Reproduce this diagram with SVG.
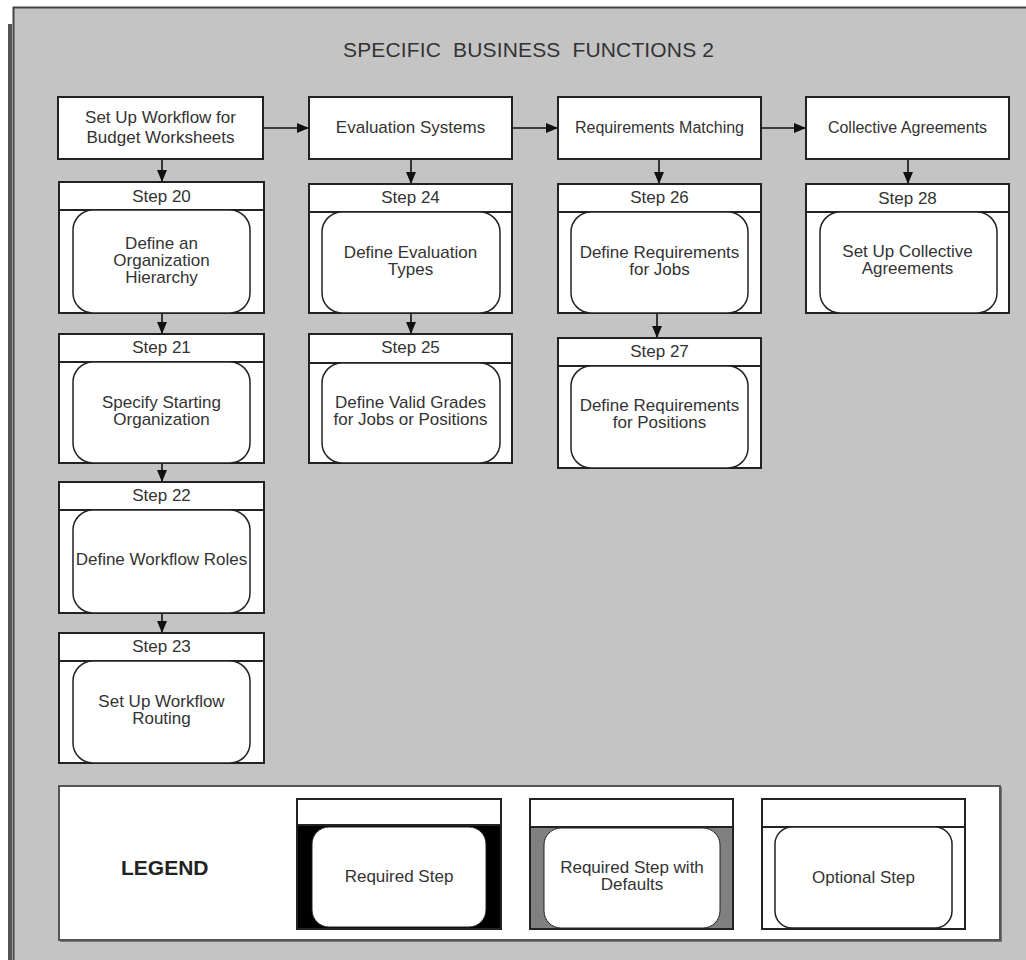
<svg xmlns="http://www.w3.org/2000/svg" width="1026" height="960" viewBox="0 0 1026 960">
<style>
  .box { fill: #ffffff; stroke: #222222; stroke-width: 2; }
  .hdr { stroke: #222222; stroke-width: 2; }
  .rr { fill: #ffffff; stroke: #222222; stroke-width: 1.5; }
  .t { font-family: "Liberation Sans", Arial, sans-serif; font-size: 17px; fill: #333333; text-anchor: middle; }
  .t16 { font-size: 16px; }
  .title { font-family: "Liberation Sans", Arial, sans-serif; font-size: 21px; fill: #333333; }
  .leg { font-family: "Liberation Sans", Arial, sans-serif; font-size: 21px; font-weight: bold; fill: #222222; }
  .conn { stroke: #111111; stroke-width: 1.6; fill: none; marker-end: url(#ah); }
</style>
<defs>
  <marker id="ah" viewBox="0 0 12 10" refX="12" refY="5" markerWidth="12" markerHeight="10" markerUnits="userSpaceOnUse" orient="auto">
    <path d="M0,0 L12,5 L0,10 Z" fill="#111111"/>
  </marker>
</defs>

<rect x="0" y="0" width="1026" height="960" fill="#ffffff"/>
<rect x="8" y="24" width="4" height="940" fill="#555555"/>
<rect x="13.5" y="7.5" width="1030" height="970" fill="#c4c4c4" stroke="#444444" stroke-width="2"/>

<text class="title" x="343" y="57" xml:space="preserve" textLength="371" lengthAdjust="spacing">SPECIFIC  BUSINESS  FUNCTIONS 2</text>

<g id="connectors">
  <line class="conn" x1="263" y1="128" x2="309" y2="128"/>
  <line class="conn" x1="512" y1="128" x2="558" y2="128"/>
  <line class="conn" x1="761" y1="128" x2="806" y2="128"/>
  <line class="conn" x1="162" y1="159" x2="162" y2="182"/>
  <line class="conn" x1="162" y1="313" x2="162" y2="334"/>
  <line class="conn" x1="162" y1="463" x2="162" y2="482"/>
  <line class="conn" x1="162" y1="613" x2="162" y2="633"/>
  <line class="conn" x1="411" y1="159" x2="411" y2="184"/>
  <line class="conn" x1="411" y1="313" x2="411" y2="334"/>
  <line class="conn" x1="659" y1="159" x2="659" y2="184"/>
  <line class="conn" x1="657" y1="313" x2="657" y2="338"/>
  <line class="conn" x1="908" y1="159" x2="908" y2="184"/>
</g>

<g id="h1">
  <rect class="box" x="58" y="97" width="205" height="62"/>
  <text class="t" x="160.5" y="123">Set Up Workflow for</text>
  <text class="t" x="160.5" y="143">Budget Worksheets</text>
</g>
<g id="h2">
  <rect class="box" x="309" y="97" width="203" height="62"/>
  <text class="t" x="410.5" y="133">Evaluation Systems</text>
</g>
<g id="h3">
  <rect class="box" x="558" y="97" width="203" height="62"/>
  <text class="t t16" x="659.5" y="133">Requirements Matching</text>
</g>
<g id="h4">
  <rect class="box" x="806" y="97" width="203" height="62"/>
  <text class="t t16" x="907.5" y="133">Collective Agreements</text>
</g>

<g id="step20">
  <rect class="box" x="59" y="182" width="205" height="131"/>
  <line class="hdr" x1="59" y1="210" x2="264" y2="210"/>
  <rect class="rr" x="73" y="210" width="177" height="103" rx="20"/>
  <text class="t" x="161.5" y="202">Step 20</text>
  <text class="t" x="161.5" y="249">Define an</text>
  <text class="t" x="161.5" y="266">Organization</text>
  <text class="t" x="161.5" y="283">Hierarchy</text>
</g>
<g id="step21">
  <rect class="box" x="59" y="334" width="205" height="129"/>
  <line class="hdr" x1="59" y1="362" x2="264" y2="362"/>
  <rect class="rr" x="73" y="362" width="177" height="101" rx="20"/>
  <text class="t" x="161.5" y="353">Step 21</text>
  <text class="t" x="161.5" y="408">Specify Starting</text>
  <text class="t" x="161.5" y="425">Organization</text>
</g>
<g id="step22">
  <rect class="box" x="59" y="482" width="205" height="131"/>
  <line class="hdr" x1="59" y1="510" x2="264" y2="510"/>
  <rect class="rr" x="73" y="510" width="177" height="103" rx="20"/>
  <text class="t" x="161.5" y="501">Step 22</text>
  <text class="t" x="161.5" y="565">Define Workflow Roles</text>
</g>
<g id="step23">
  <rect class="box" x="59" y="633" width="205" height="130"/>
  <line class="hdr" x1="59" y1="661" x2="264" y2="661"/>
  <rect class="rr" x="73" y="661" width="177" height="102" rx="20"/>
  <text class="t" x="161.5" y="652">Step 23</text>
  <text class="t" x="161.5" y="707">Set Up Workflow</text>
  <text class="t" x="161.5" y="724">Routing</text>
</g>

<g id="step24">
  <rect class="box" x="309" y="184" width="203" height="129"/>
  <line class="hdr" x1="309" y1="212" x2="512" y2="212"/>
  <rect class="rr" x="322" y="212" width="178" height="101" rx="20"/>
  <text class="t" x="410.5" y="203">Step 24</text>
  <text class="t" x="410.5" y="258">Define Evaluation</text>
  <text class="t" x="410.5" y="275">Types</text>
</g>
<g id="step25">
  <rect class="box" x="309" y="334" width="203" height="129"/>
  <line class="hdr" x1="309" y1="363" x2="512" y2="363"/>
  <rect class="rr" x="322" y="363" width="178" height="100" rx="20"/>
  <text class="t" x="410.5" y="353">Step 25</text>
  <text class="t" x="410.5" y="408">Define Valid Grades</text>
  <text class="t" x="410.5" y="425">for Jobs or Positions</text>
</g>

<g id="step26">
  <rect class="box" x="558" y="184" width="203" height="129"/>
  <line class="hdr" x1="558" y1="212" x2="761" y2="212"/>
  <rect class="rr" x="571" y="212" width="177" height="101" rx="20"/>
  <text class="t" x="659.5" y="203">Step 26</text>
  <text class="t" x="659.5" y="258">Define Requirements</text>
  <text class="t" x="659.5" y="275">for Jobs</text>
</g>
<g id="step27">
  <rect class="box" x="558" y="338" width="203" height="130"/>
  <line class="hdr" x1="558" y1="366" x2="761" y2="366"/>
  <rect class="rr" x="571" y="366" width="177" height="102" rx="20"/>
  <text class="t" x="659.5" y="357">Step 27</text>
  <text class="t" x="659.5" y="411">Define Requirements</text>
  <text class="t" x="659.5" y="428">for Positions</text>
</g>

<g id="step28">
  <rect class="box" x="806" y="184" width="203" height="129"/>
  <line class="hdr" x1="806" y1="212" x2="1009" y2="212"/>
  <rect class="rr" x="820" y="212" width="177" height="101" rx="20"/>
  <text class="t" x="907.5" y="204">Step 28</text>
  <text class="t" x="907.5" y="257">Set Up Collective</text>
  <text class="t" x="907.5" y="274">Agreements</text>
</g>

<g id="legend">
  <rect x="60" y="787" width="942" height="155" fill="#777777"/>
  <rect x="59" y="786" width="941" height="154" fill="#ffffff" stroke="#555555" stroke-width="2"/>
  <text class="leg" x="121" y="875">LEGEND</text>

  <g id="legend-required">
    <rect x="297" y="799" width="204" height="130" fill="#000000" stroke="#222222" stroke-width="2"/>
    <rect x="297" y="799" width="204" height="26" fill="#ffffff" stroke="#222222" stroke-width="2"/>
    <rect x="312" y="827" width="174" height="100" rx="17" fill="#ffffff" stroke="#222222" stroke-width="1"/>
    <text class="t" x="399" y="882">Required Step</text>
  </g>
  <g id="legend-defaults">
    <rect x="530" y="799" width="203" height="130" fill="#808080" stroke="#222222" stroke-width="2"/>
    <rect x="530" y="799" width="203" height="28" fill="#ffffff" stroke="#222222" stroke-width="2"/>
    <rect x="544" y="828" width="176" height="100" rx="17" fill="#ffffff" stroke="#222222" stroke-width="1"/>
    <text class="t" x="632" y="873">Required Step with</text>
    <text class="t" x="632" y="890">Defaults</text>
  </g>
  <g id="legend-optional">
    <rect x="762" y="799" width="203" height="130" fill="#ffffff" stroke="#222222" stroke-width="2"/>
    <line class="hdr" x1="762" y1="827" x2="965" y2="827"/>
    <rect x="775" y="827" width="177" height="101" rx="17" fill="#ffffff" stroke="#222222" stroke-width="1.5"/>
    <text class="t" x="863.5" y="883">Optional Step</text>
  </g>
</g>
</svg>
